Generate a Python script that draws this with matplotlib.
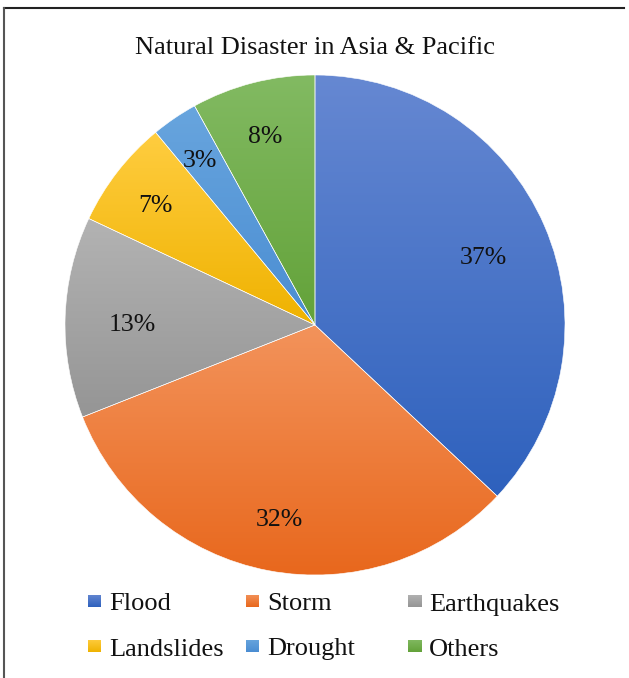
import numpy as np
import matplotlib
matplotlib.use("Agg")
import matplotlib.pyplot as plt
from matplotlib.colors import LinearSegmentedColormap
from matplotlib.lines import Line2D
from matplotlib.transforms import offset_copy

title = "Natural Disaster in Asia & Pacific"
categories = ["Flood", "Storm", "Earthquakes", "Landslides", "Drought", "Others"]
values = [37, 32, 13, 7, 3, 8]
labels = ["37%", "32%", "13%", "7%", "3%", "8%"]
top_colors = ["#6688D2", "#F3935B", "#B3B3B3", "#FFCD40", "#68A5DE", "#82BA62"]
bot_colors = ["#2E61BD", "#E8671C", "#959595", "#EFB200", "#4A8DD2", "#63A239"]
label_r = [0.735, 0.77, 0.73, 0.81, 0.82, 0.80]

plt.rcParams["font.family"] = ["Liberation Serif", "DejaVu Serif"]

fig = plt.figure(figsize=(6.29, 6.78), dpi=100)
W, H = 629, 678
cx, cy, R = 315, 325, 250
ax = fig.add_axes([(cx - R) / W, 1 - (cy + R) / H, 2 * R / W, 2 * R / H])

wedges, _ = ax.pie(values, startangle=90, counterclock=False, radius=1.0,
                   colors=["none"] * len(values),
                   wedgeprops=dict(edgecolor="white", linewidth=0.4))
ax.set_aspect("equal")
ax.axis("off")

lab_tr = offset_copy(ax.transData, fig=fig, x=0, y=-3, units="dots")
grad = np.linspace(0, 1, 256).reshape(-1, 1)
for w, ct, cb, lab, lr in zip(wedges, top_colors, bot_colors, labels, label_r):
    verts = w.get_patch_transform().transform(w.get_path().vertices)
    x0, x1 = verts[:, 0].min(), verts[:, 0].max()
    y0, y1 = verts[:, 1].min(), verts[:, 1].max()
    cmap = LinearSegmentedColormap.from_list("g", [cb, ct])
    im = ax.imshow(grad, cmap=cmap, extent=[x0, x1, y0, y1], origin="lower",
                   aspect="auto", zorder=0.5, interpolation="bilinear")
    im.set_clip_path(w)
    w.set_zorder(1)
    ang = np.deg2rad((w.theta1 + w.theta2) / 2)
    ax.text(lr * np.cos(ang), lr * np.sin(ang), lab, ha="center", va="center_baseline",
            fontsize=18.5, color="#111111", zorder=3, transform=lab_tr)
ax.set_xlim(-1, 1)
ax.set_ylim(-1, 1)

fig.text(cx / W, 1 - 46 / H, title, ha="center", va="center_baseline", fontsize=19, color="#111111")

# legend (manual, Excel-like fixed columns)
col_x = [88, 246, 408]
row_y = [601, 646]
msz = 13
for i, (cat, ct, cb) in enumerate(zip(categories, top_colors, bot_colors)):
    r, c = divmod(i, 3)
    mx, my = col_x[c], row_y[r]
    lax = fig.add_axes([mx / W, 1 - (my + msz / 2) / H, msz / W, msz / H])
    cmap = LinearSegmentedColormap.from_list("g", [cb, ct])
    lax.imshow(grad, cmap=cmap, origin="lower", aspect="auto", extent=[0, 1, 0, 1])
    lax.axis("off")
    fig.text((mx + msz + 8) / W, 1 - (my + 1) / H, cat, ha="left", va="center_baseline",
             fontsize=19, color="#111111")

# chart border (top and left edges visible)
fig.add_artist(Line2D([4 / W, 624 / W], [1 - 8 / H, 1 - 8 / H], color="#222222", lw=1.5))
fig.add_artist(Line2D([4 / W, 4 / W], [1 - 8 / H, 0], color="#555555", lw=1.5))

fig.savefig("out.png", dpi=100)
